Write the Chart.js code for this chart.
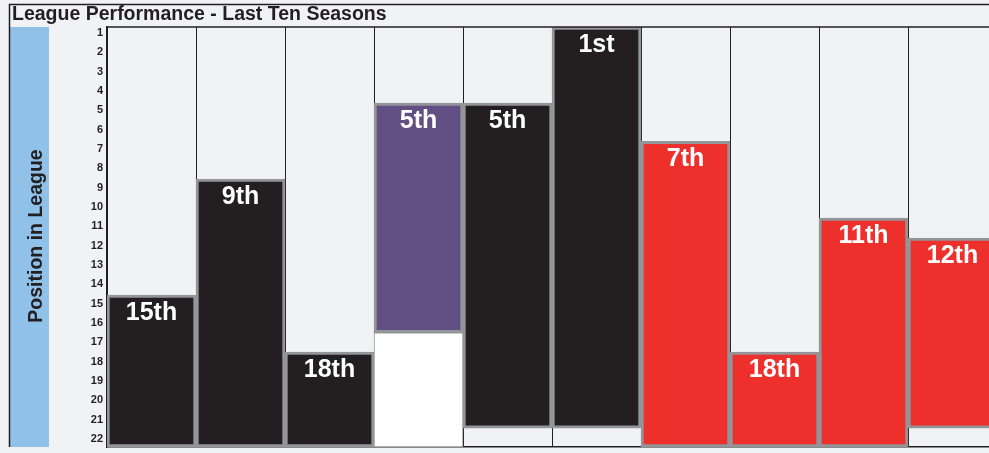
<!DOCTYPE html>
<html>
<head>
<meta charset="utf-8">
<script src="https://cdn.jsdelivr.net/npm/chart.js@4"></script>
<style>
    html, body { margin: 0; padding: 0; background: #f1f2f4; overflow: hidden; }
    #wrap { width: 1000px; height: 453px; }
</style>
</head>
<body>
<div id="wrap"><canvas id="leagueChart" width="1000" height="453"></canvas></div>
<script>
// -------------------------
// DATA
// -------------------------
const seasons = ["S1", "S2", "S3", "S4", "S5", "S6", "S7", "S8", "S9", "S10"];
const finishLabels = ["15th", "9th", "18th", "5th", "5th", "1st", "7th", "18th", "11th", "12th"];
const barTop = [14.55, 8.55, 17.5, 4.62, 4.62, 0.69, 6.6, 17.5, 10.57, 11.6];
const barBottom = [22.41, 22.41, 22.41, 16.5, 21.43, 21.43, 22.41, 22.41, 22.41, 21.43];
const barColors = ["#231f20", "#231f20", "#231f20", "#614e82", "#231f20",
                   "#231f20", "#ee302c", "#ee302c", "#ee302c", "#ee302c"];
// white gap under the purple bar
const gapTop = [null, null, null, 16.5, null, null, null, null, null, null];
const gapBottom = [null, null, null, 22.41, null, null, null, null, null, null];
const positionTicks = [1, 2, 3, 4, 5, 6, 7, 8, 9, 10, 11, 12, 13, 14, 15, 16, 17, 18, 19, 20, 21, 22];

const chartTitle = "League Performance - Last Ten Seasons";
const axisTitle = "Position in League";
const FONT = "'Liberation Sans', Arial, sans-serif";

// -------------------------
// PLUGINS
// -------------------------
const frame = {
    id: "frame",
    beforeDraw(chart) {
        const ctx = chart.ctx;
        const area = chart.chartArea;
        ctx.save();
        ctx.fillStyle = "#f1f2f4";
        ctx.fillRect(0, 0, chart.width, chart.height);

        // blue axis strip
        ctx.fillStyle = "#8fc1e9";
        ctx.fillRect(9, area.top, 40, area.bottom - area.top);

        // outer frame
        ctx.strokeStyle = "#231f20";
        ctx.lineWidth = 1.5;
        ctx.beginPath();
        ctx.moveTo(9.5, area.bottom);
        ctx.lineTo(9.5, 4.5);
        ctx.lineTo(chart.width, 4.5);
        ctx.stroke();

        // title
        ctx.fillStyle = "#231f20";
        ctx.font = "bold 19.5px " + FONT;
        ctx.textAlign = "left";
        ctx.textBaseline = "alphabetic";
        ctx.fillText(chartTitle, 12, 20);

        // vertical axis title
        ctx.translate(42, 236);
        ctx.rotate(-Math.PI / 2);
        ctx.font = "bold 19.5px " + FONT;
        ctx.textAlign = "center";
        ctx.fillText(axisTitle, 0, 0);
        ctx.restore();
    },
    afterDatasetsDraw(chart) {
        const ctx = chart.ctx;
        const area = chart.chartArea;
        ctx.save();
        ctx.strokeStyle = "#231f20";
        ctx.lineWidth = 1.5;
        ctx.beginPath();
        ctx.moveTo(area.left, area.top);
        ctx.lineTo(chart.width, area.top);
        ctx.stroke();

        // finish labels on each bar
        const meta = chart.getDatasetMeta(0);
        ctx.fillStyle = "#ffffff";
        ctx.font = "bold 25px " + FONT;
        ctx.textAlign = "center";
        ctx.textBaseline = "alphabetic";
        meta.data.forEach((bar, i) => {
            const top = Math.min(bar.y, bar.base);
            ctx.fillText(finishLabels[i], bar.x, top + 25);
        });
        ctx.restore();
    }
};

// -------------------------
// CHART
// -------------------------
const ctx = document.getElementById("leagueChart").getContext("2d");

new Chart(ctx, {
    type: "bar",
    data: {
        labels: seasons,
        datasets: [{
            data: barTop.map((t, i) => [t, barBottom[i]]),
            backgroundColor: barColors,
            borderColor: "#939598",
            borderWidth: 3,
            borderSkipped: false,
            barPercentage: 1,
            categoryPercentage: 1
        }, {
            data: gapTop.map((t, i) => t === null ? null : [t, gapBottom[i]]),
            backgroundColor: "#ffffff",
            borderColor: "#939598",
            borderWidth: 1,
            borderSkipped: false,
            barPercentage: 1,
            categoryPercentage: 1
        }]
    },
    options: {
        responsive: false,
        animation: false,
        devicePixelRatio: 1,
        layout: {
            padding: { left: 0, top: 27, right: 3, bottom: 6 }
        },
        plugins: {
            legend: { display: false },
            tooltip: { enabled: false }
        },
        scales: {
            x: {
                stacked: true,
                offset: true,
                ticks: { display: false },
                afterFit(scale) {
                    scale.height = 0;
                    scale.paddingLeft = 0;
                    scale.paddingRight = 0;
                },
                grid: {
                    offset: true,
                    color: "#231f20",
                    lineWidth: 1,
                    drawTicks: false
                },
                border: { display: true, color: "#231f20", width: 1.5 }
            },
            y: {
                reverse: true,
                min: 0.69,
                max: 22.41,
                afterBuildTicks(scale) {
                    scale.ticks = positionTicks.map(v => ({ value: v }));
                },
                afterFit(scale) {
                    scale.width = 107;
                    scale.paddingTop = 0;
                    scale.paddingBottom = 0;
                },
                ticks: {
                    padding: 4,
                    color: "#231f20",
                    font: { family: FONT, size: 11, weight: "bold" }
                },
                grid: { display: false, drawTicks: false },
                border: { display: true, color: "#231f20", width: 1.5 }
            }
        }
    },
    plugins: [frame]
});
</script>
</body>
</html>
